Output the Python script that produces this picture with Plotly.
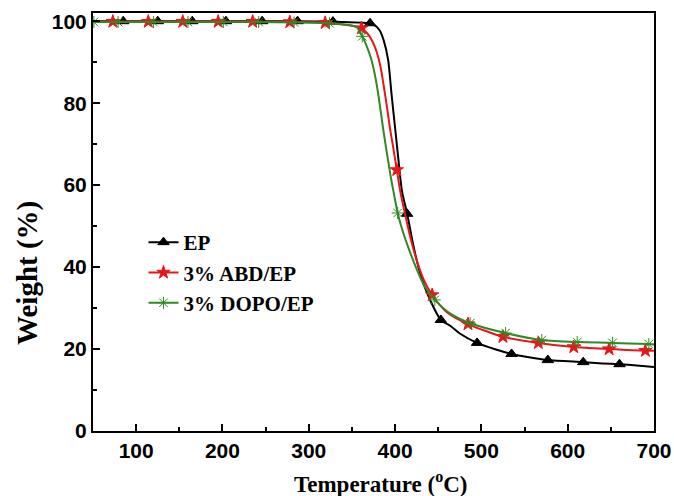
import plotly.graph_objects as go

# ---- data ----
series_names = ["EP", "3% ABD/EP", "3% DOPO/EP"]

# marker positions (temperature, weight)
ep_mark_T = [85, 125, 165, 204, 246, 287, 328, 371, 414, 453, 495, 535, 577, 618, 660]
ep_mark_W = [100.0, 100.0, 100.0, 100.0, 100.0, 100.0, 99.9, 99.5, 53.0, 27.1, 21.5, 18.8, 17.3, 16.8, 16.3]

abd_mark_T = [73, 114, 154, 195, 235, 278, 319, 361, 402, 443, 484.5, 525, 566, 607, 648, 690]
abd_mark_W = [99.9, 99.9, 99.9, 99.9, 99.9, 99.8, 99.6, 98.3, 63.7, 33.2, 26.1, 23.0, 21.5, 20.5, 20.0, 19.6]

dopo_mark_T = [51, 79, 120, 160, 201, 242, 283, 324, 362, 403, 446, 487, 528, 570, 611, 652, 694]
dopo_mark_W = [99.8, 99.8, 99.8, 99.8, 99.8, 99.8, 99.7, 99.5, 96.3, 53.2, 32.0, 26.3, 23.9, 22.2, 21.7, 21.5, 21.2]

# extra points that shape the curves between markers
ep_curve_T = [50, 375, 382, 387, 392, 396, 400, 404, 408, 420, 425, 430, 437, 445, 465, 475, 515, 555, 640, 680, 700]
ep_curve_W = [100.0, 99.2, 97.8, 95.2, 90.5, 82.0, 74.0, 66.0, 58.5, 46.5, 41.7, 37.8, 33.7, 30.0, 25.5, 23.8, 20.0, 18.0, 16.5, 16.0, 15.6]

abd_curve_T = [50, 368, 374, 379, 383, 387, 391, 394, 398, 406, 411.5, 418, 425, 433, 460, 700]
abd_curve_W = [99.9, 97.0, 95.0, 92.3, 89.0, 84.0, 78.5, 74.0, 69.0, 58.5, 53.0, 47.0, 41.7, 37.0, 29.0, 19.6]

dopo_curve_T = [355, 367, 372, 377, 381, 386, 390, 395, 399, 410, 415, 425, 435, 465, 700]
dopo_curve_W = [98.6, 94.0, 91.0, 86.5, 81.5, 74.0, 68.5, 62.0, 57.5, 48.0, 45.0, 39.5, 35.0, 28.5, 21.1]

x_title = "Temperature (<sup>o</sup>C)"
y_title = "Weight (%)"

colors = ["#000000", "#e8161b", "#2f8a22"]
symbols = ["triangle-up", "star", "asterisk-open"]


def merged(mt, mw, ct, cw):
    pts = sorted(zip(list(mt) + list(ct), list(mw) + list(cw)))
    return [p[0] for p in pts], [p[1] for p in pts]


fig = go.Figure()
datasets = [
    (ep_mark_T, ep_mark_W, ep_curve_T, ep_curve_W),
    (abd_mark_T, abd_mark_W, abd_curve_T, abd_curve_W),
    (dopo_mark_T, dopo_mark_W, dopo_curve_T, dopo_curve_W),
]
msize = [10, 10, 10]
for name, col, sym, ms, (mt, mw, ct, cw) in zip(series_names, colors, symbols, msize, datasets):
    xs, ys = merged(mt, mw, ct, cw)
    fig.add_trace(go.Scatter(x=xs, y=ys, mode="lines", showlegend=False,
                             line=dict(color=col, width=2, shape="spline", smoothing=0.7),
                             hoverinfo="skip"))
    fig.add_trace(go.Scatter(x=mt, y=mw, mode="markers", showlegend=False,
                             marker=dict(symbol=sym, size=ms, color=col,
                                         line=dict(color=col, width=1))))
    # legend entry
    fig.add_trace(go.Scatter(x=[None], y=[None], mode="lines+markers", name=name,
                             line=dict(color=col, width=2),
                             marker=dict(symbol=sym, size=ms, color=col,
                                         line=dict(color=col, width=1))))

tickfont = dict(family="Liberation Sans, Arial", size=21, color="#000", weight="bold")
serif = "Liberation Serif, Times New Roman"

fig.update_layout(
    width=674, height=496,
    margin=dict(l=93, r=20, t=13, b=65),
    paper_bgcolor="white", plot_bgcolor="white",
    showlegend=True,
    legend=dict(x=0.09, y=0.5, xanchor="left", yanchor="top",
                font=dict(family=serif, size=21, color="#000", weight="bold"),
                bgcolor="rgba(0,0,0,0)", borderwidth=0, tracegroupgap=0, itemsizing="trace"),
    xaxis=dict(range=[50, 700], tick0=0, dtick=100, ticks="inside", ticklen=7, tickwidth=1.5,
               tickcolor="#000", showline=True, linewidth=2, linecolor="#000", mirror=True,
               showgrid=False, zeroline=False, tickfont=tickfont, automargin=False,
               minor=dict(dtick=50, ticks="inside", ticklen=4, tickwidth=1.5, tickcolor="#000", showgrid=False)),
    yaxis=dict(range=[0, 102], tick0=0, dtick=20, ticks="inside", ticklen=7, tickwidth=1.5,
               tickcolor="#000", showline=True, linewidth=2, linecolor="#000", mirror=True,
               showgrid=False, zeroline=False, tickfont=tickfont, automargin=False,
               minor=dict(dtick=10, ticks="inside", ticklen=4, tickwidth=1.5, tickcolor="#000", showgrid=False)),
    annotations=[
        dict(text=x_title, xref="paper", yref="paper", x=0.513, y=-0.124,
             xanchor="center", yanchor="middle", showarrow=False,
             font=dict(family=serif, size=23, color="#000", weight="bold")),
        dict(text=y_title, xref="paper", yref="paper", x=-0.116, y=0.378,
             xanchor="center", yanchor="middle", showarrow=False, textangle=-90,
             font=dict(family=serif, size=29, color="#000", weight="bold")),
    ],
)

fig.write_html("out.html")
